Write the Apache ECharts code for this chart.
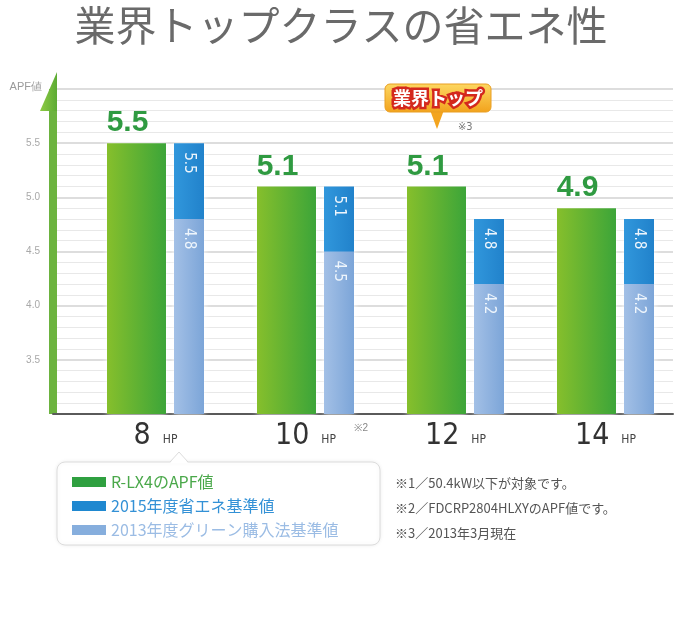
<!DOCTYPE html>
<html>
<head>
<meta charset="utf-8">
<title>業界トップクラスの省エネ性</title>
<script src="https://cdn.jsdelivr.net/npm/echarts@6/dist/echarts.min.js"></script>
<style>
html, body { margin: 0; padding: 0; background: #fff; }
#main { width: 682px; height: 626px; }
</style>
</head>
<body>
<div id="main"></div>
<script>
// データ
var categories = ['8', '10', '12', '14'];
var categoryMarks = ['', '※2', '', ''];
var rlx4Apf = [5.5, 5.1, 5.1, 4.9];
var std2015 = [5.5, 5.1, 4.8, 4.8];
var green2013 = [4.8, 4.5, 4.2, 4.2];
var yTickLabels = ['3.5', '4.0', '4.5', '5.0', '5.5'];
var seriesNames = ['R-LX4のAPF値', '2015年度省エネ基準値', '2013年度グリーン購入法基準値'];
var notes = ['※1／50.4kW以下が対象です。', '※2／FDCRP2804HLXYのAPF値です。', '※3／2013年3月現在'];

var narrow = "'Liberation Sans Narrow', 'DejaVu Sans Condensed', 'Liberation Sans', sans-serif";
var jp = "'Noto Sans CJK JP', sans-serif";

function hGrad(a, b) {
    return new echarts.graphic.LinearGradient(0, 0, 1, 0, [
        { offset: 0, color: a }, { offset: 1, color: b }
    ]);
}

var blueLabel = {
    show: true,
    position: ['50%', 9],
    rotate: -90,
    align: 'left',
    verticalAlign: 'middle',
    color: '#eef5fc',
    fontSize: 15,
    fontFamily: narrow
};

var chart = echarts.init(document.getElementById('main'));
var option = {
    animation: false,
    title: {
        text: '業界トップクラスの省エネ性',
        left: 'center',
        top: 0,
        textStyle: { fontSize: 41, color: '#6a6a6a', fontWeight: 'normal', fontFamily: jp }
    },
    legend: {
        orient: 'vertical',
        left: 72,
        top: 474,
        padding: 0,
        itemWidth: 34,
        itemHeight: 10,
        itemGap: 8,
        icon: 'rect',
        textStyle: { fontSize: 16, fontFamily: jp },
        data: [
            { name: seriesNames[0], itemStyle: { color: '#2fa040' }, textStyle: { color: '#4aa84a' } },
            { name: seriesNames[1], itemStyle: { color: '#1f88d0' }, textStyle: { color: '#3391d6' } },
            { name: seriesNames[2], itemStyle: { color: '#86aedd' }, textStyle: { color: '#9bbce4' } }
        ]
    },
    grid: [
        { left: 80.5, right: 1.5, top: 89, bottom: 212 },
        { left: 53, right: 9, top: 89, bottom: 212 }
    ],
    xAxis: [
        { type: 'category', gridIndex: 0, data: categories,
          axisLine: { show: false }, axisTick: { show: false },
          axisLabel: {
              interval: 0,
              margin: 5,
              formatter: function (v, i) {
                  var s = '{n|' + v + '}{u|HP}';
                  if (categoryMarks[i]) s = '{sp|}' + s + '{s|' + categoryMarks[i] + '}';
                  return s;
              },
              rich: {
                  n: { fontSize: 30, fontFamily: narrow, color: '#333', lineHeight: 32, verticalAlign: 'bottom' },
                  u: { fontSize: 12, fontFamily: narrow, color: '#444', lineHeight: 14, padding: [0, 0, 5, 12], verticalAlign: 'bottom' },
                  sp: { width: 32 },
                  s: { fontSize: 10, color: '#888', width: 32, align: 'right', lineHeight: 12, padding: [4, 0, 0, 0], verticalAlign: 'top' }
              }
          } },
        { type: 'category', gridIndex: 0, data: categories, show: false },
        { type: 'category', gridIndex: 1, data: categories,
          axisLine: { show: true, lineStyle: { color: '#5a5a5a', width: 2 } },
          axisTick: { show: false }, axisLabel: { show: false } }
    ],
    yAxis: [
        { type: 'value', gridIndex: 0, min: 3, max: 6, interval: 0.5, show: false },
        { type: 'value', gridIndex: 1, min: 3, max: 6, interval: 0.5,
          name: 'APF値', nameLocation: 'end', nameGap: 2,
          nameTextStyle: { color: '#9a9a9a', fontSize: 11, align: 'right', verticalAlign: 'middle', padding: [0, 11, 0, 0] },
          axisLine: { show: true, lineStyle: { color: '#6cb33f', width: 8, cap: 'butt' } },
          axisTick: { show: false },
          axisLabel: {
              margin: 13, color: '#a8a8a8', fontSize: 10,
              formatter: function (v) {
                  var t = v.toFixed(1);
                  return yTickLabels.indexOf(t) >= 0 ? t : '';
              }
          },
          splitLine: { show: true, lineStyle: { color: '#d2d2d2', width: 1.5 } },
          minorTick: { show: false, splitNumber: 5 },
          minorSplitLine: { show: true, lineStyle: { color: '#e8e8e8', width: 1 } } }
    ],
    series: [
        {
            name: seriesNames[0], type: 'bar', xAxisIndex: 0, yAxisIndex: 0,
            data: rlx4Apf, barWidth: 59, barGap: '13.56%', z: 3,
            itemStyle: { color: hGrad('#86bf2c', '#3ca539'), shadowColor: '#fff', shadowBlur: 6 },
            label: { show: true, position: 'top', distance: 5, offset: [-9, 0], color: '#2f9a41',
                     fontSize: 30, fontWeight: 'bold', fontFamily: "'Liberation Sans', Arial, sans-serif" }
        },
        {
            name: seriesNames[1], type: 'bar', xAxisIndex: 0, yAxisIndex: 0,
            data: std2015, barWidth: 30, barGap: '13.56%', z: 3,
            itemStyle: { color: hGrad('#3197dc', '#2182cb'), shadowColor: '#fff', shadowBlur: 6 },
            label: blueLabel
        },
        {
            // 緑のバーの位置合わせ用（透明）
            name: 'pad', type: 'bar', xAxisIndex: 1, yAxisIndex: 0,
            data: rlx4Apf, barWidth: 59, barGap: '13.56%', silent: true, z: 2,
            itemStyle: { color: 'rgba(0,0,0,0)' }
        },
        {
            name: seriesNames[2], type: 'bar', xAxisIndex: 1, yAxisIndex: 0,
            data: green2013, barWidth: 30, barGap: '13.56%', z: 4,
            itemStyle: { color: hGrad('#a3c0e6', '#7ca5d8') },
            label: blueLabel
        }
    ],
    graphic: [
        // 軸の矢印
        { type: 'polygon', z: 10, shape: { points: [[57, 72], [57, 111], [40, 111]] },
          style: { fill: hGrad('#8fcb45', '#5cab34') } },
        // 業界トップ バッジ
        { type: 'polygon', z: 10, shape: { points: [[430, 110], [444, 110], [437, 129]] },
          style: { fill: '#f3a41e' } },
        { type: 'rect', z: 10, shape: { x: 385, y: 84, width: 106, height: 28, r: 5 },
          style: { fill: new echarts.graphic.LinearGradient(0, 0, 0, 1, [
              { offset: 0, color: '#fdd862' }, { offset: 1, color: '#f2a21c' }]), stroke: '#e99e22', lineWidth: 1 } },
        { type: 'text', z: 11, x: 438, y: 98,
          style: { text: '業界トップ', align: 'center', verticalAlign: 'middle', fill: '#fff',
                   stroke: '#d4281d', lineWidth: 5, font: 'bold 18px ' + jp } },
        { type: 'text', z: 11, x: 458, y: 127,
          style: { text: '※3', align: 'left', verticalAlign: 'middle', fill: '#777', font: '11px ' + narrow } },
        // 凡例の枠
        { type: 'rect', z: -2, shape: { x: 57, y: 462, width: 323, height: 83, r: 8 },
          style: { fill: '#fff', stroke: '#dcdcdc', lineWidth: 1, shadowColor: 'rgba(0,0,0,0.08)', shadowBlur: 4 } },
        { type: 'polygon', z: -1, shape: { points: [[170, 463], [179, 452], [188, 463]] },
          style: { fill: '#fff' } },
        { type: 'polyline', z: -1, shape: { points: [[170, 462], [179, 452], [188, 462]] },
          style: { fill: null, stroke: '#dcdcdc', lineWidth: 1 } },
        // 注記
        { type: 'text', left: 395, top: 471,
          style: { text: notes.join('\n'), fill: '#555', font: '13px ' + jp, lineHeight: 25 } }
    ]
};
chart.setOption(option);
</script>
</body>
</html>
